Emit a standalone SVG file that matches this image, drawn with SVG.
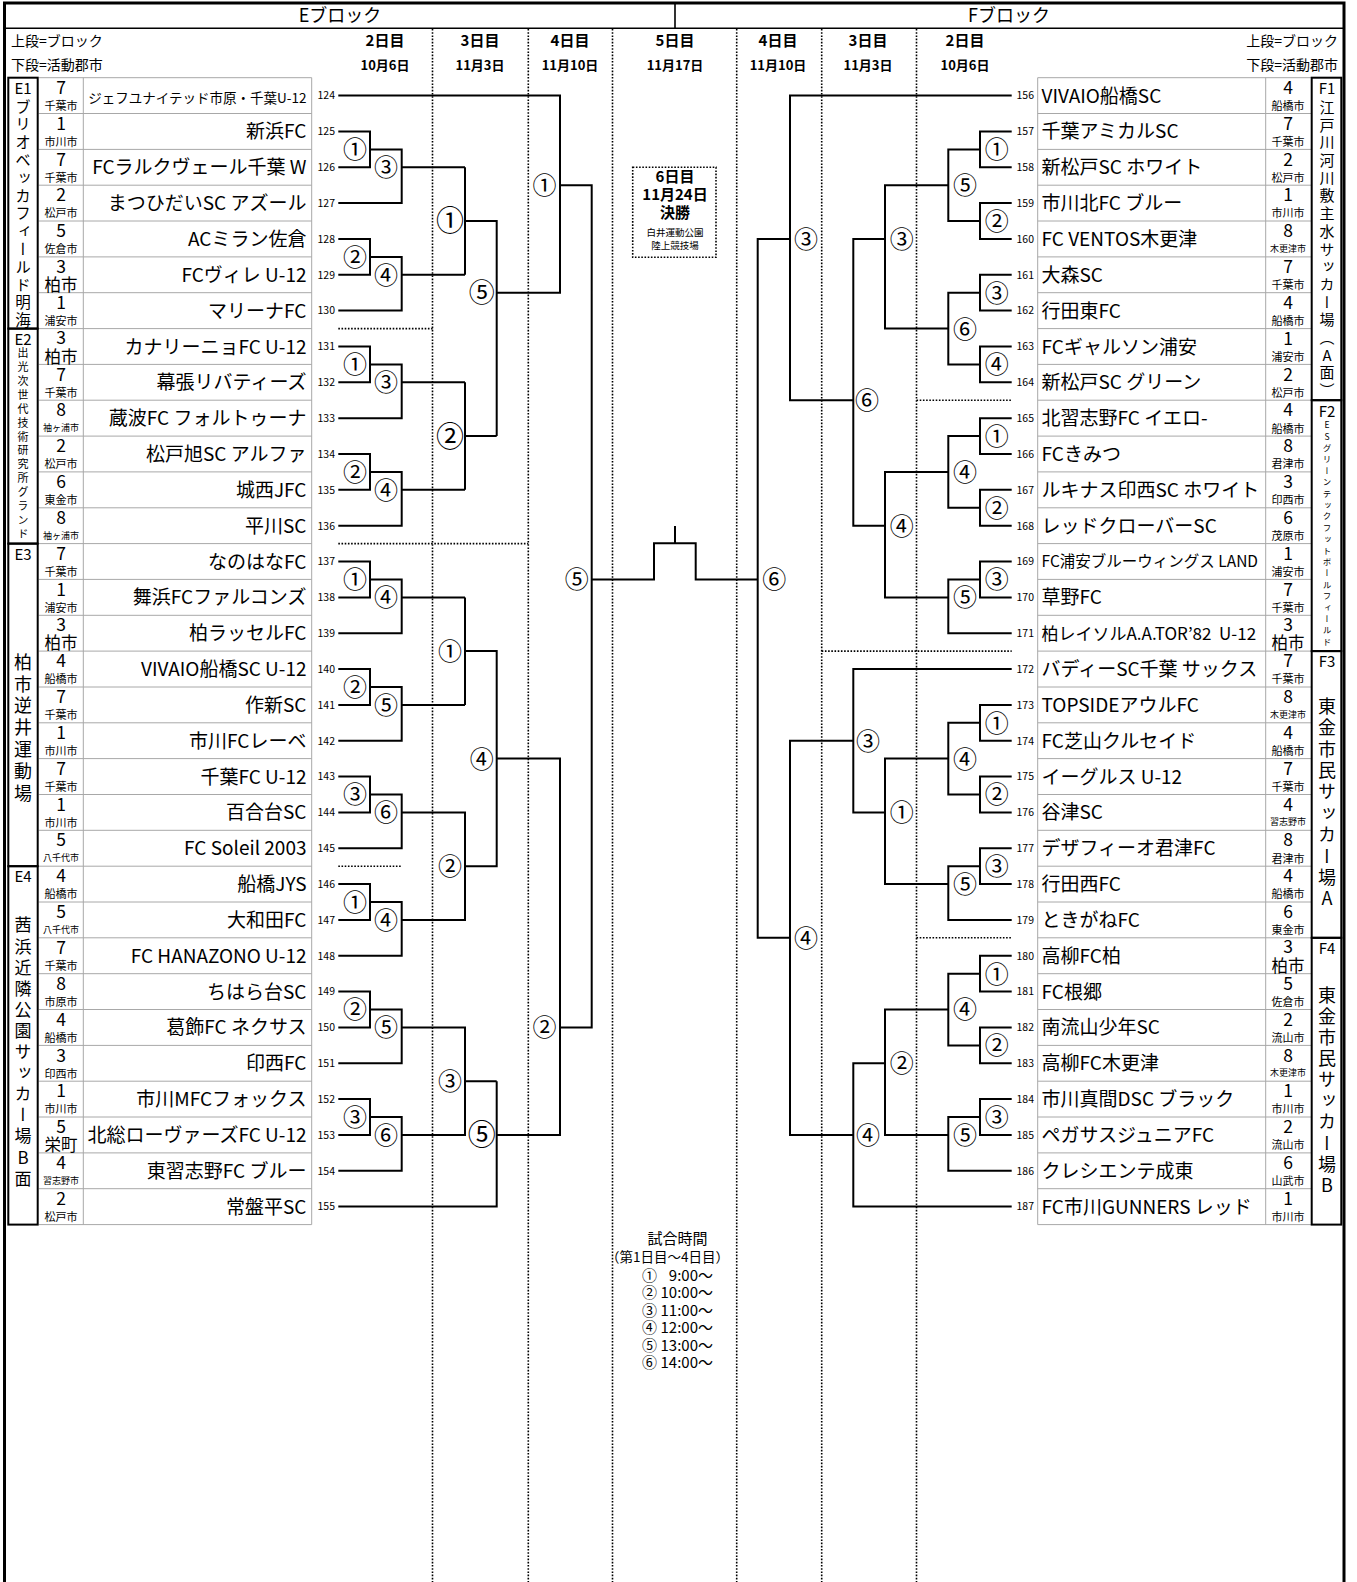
<svg xmlns="http://www.w3.org/2000/svg" width="1357" height="1582" viewBox="0 0 1357 1582">
<style>
text{font-family:"Noto Sans CJK JP","Liberation Sans",sans-serif;fill:#000}
.hd{font-size:18px;text-anchor:middle}
.dy{font-size:15px;font-weight:bold;text-anchor:middle}
.dd{font-size:13px;font-weight:bold;text-anchor:middle}
.lg{font-size:14px}
.rk{font-size:17.5px;text-anchor:middle}
.cs{font-size:11px;text-anchor:middle}
.ct{font-size:9px;text-anchor:middle}
.cl{font-size:16.5px;text-anchor:middle}
.ne{font-size:19px;text-anchor:end}
.nf{font-size:19px}
.ue{font-size:10.5px;text-anchor:end}
.uf{font-size:10.5px}
.m{font-size:24px;text-anchor:middle}
.M{font-size:28px;text-anchor:middle}
.bl{font-size:15px;text-anchor:middle}
.tm{font-size:15px}
.v{writing-mode:vertical-rl;text-orientation:upright}
.ln{fill:none;stroke:#000;stroke-width:2}
.dt{fill:none;stroke:#000;stroke-width:1.6;stroke-dasharray:1.6 1.6}
.gr{fill:none;stroke:#a8a8a8;stroke-width:1}
.bx{fill:none;stroke:#000;stroke-width:2}
</style>
<rect x="0" y="0" width="1357" height="1582" fill="#fff"/>
<g id="frame">
<path d="M4.5 1582V3H1344V1582" fill="none" stroke="#000" stroke-width="3"/>
<path d="M4.5 28.3H1344M675 3V28.3" fill="none" stroke="#000" stroke-width="1.6"/>
</g>
<g id="header">
<text class="hd" x="340" y="21.5">Eブロック</text>
<text class="hd" x="1009" y="21.5">Fブロック</text>
<text class="lg" x="11" y="46">上段=ブロック</text>
<text class="lg" x="11" y="70">下段=活動郡市</text>
<text class="lg" x="1338" y="46" text-anchor="end">上段=ブロック</text>
<text class="lg" x="1338" y="70" text-anchor="end">下段=活動郡市</text>
<text class="dy" x="385" y="46">2日目</text><text class="dd" x="385" y="70">10月6日</text>
<text class="dy" x="480" y="46">3日目</text><text class="dd" x="480" y="70">11月3日</text>
<text class="dy" x="570" y="46">4日目</text><text class="dd" x="570" y="70">11月10日</text>
<text class="dy" x="675" y="46">5日目</text><text class="dd" x="675" y="70">11月17日</text>
<text class="dy" x="778" y="46">4日目</text><text class="dd" x="778" y="70">11月10日</text>
<text class="dy" x="868" y="46">3日目</text><text class="dd" x="868" y="70">11月3日</text>
<text class="dy" x="965" y="46">2日目</text><text class="dd" x="965" y="70">10月6日</text>
</g>
<g id="grid">
<path class="gr" d="M38.7 77.7H311.7M38.7 113.5H311.7M38.7 149.4H311.7M38.7 185.2H311.7M38.7 221H311.7M38.7 256.9H311.7M38.7 292.7H311.7M38.7 328.6H311.7M38.7 364.4H311.7M38.7 400.2H311.7M38.7 436.1H311.7M38.7 471.9H311.7M38.7 507.8H311.7M38.7 543.6H311.7M38.7 579.4H311.7M38.7 615.3H311.7M38.7 651.1H311.7M38.7 687H311.7M38.7 722.8H311.7M38.7 758.6H311.7M38.7 794.5H311.7M38.7 830.3H311.7M38.7 866.2H311.7M38.7 902H311.7M38.7 937.8H311.7M38.7 973.7H311.7M38.7 1009.5H311.7M38.7 1045.4H311.7M38.7 1081.2H311.7M38.7 1117H311.7M38.7 1152.9H311.7M38.7 1188.7H311.7M38.7 1224.6H311.7M83.3 77.7V1224.6M311.7 77.7V1224.6"/>
<path class="gr" d="M1037.7 77.7H1311M1037.7 113.5H1311M1037.7 149.4H1311M1037.7 185.2H1311M1037.7 221H1311M1037.7 256.9H1311M1037.7 292.7H1311M1037.7 328.6H1311M1037.7 364.4H1311M1037.7 400.2H1311M1037.7 436.1H1311M1037.7 471.9H1311M1037.7 507.8H1311M1037.7 543.6H1311M1037.7 579.4H1311M1037.7 615.3H1311M1037.7 651.1H1311M1037.7 687H1311M1037.7 722.8H1311M1037.7 758.6H1311M1037.7 794.5H1311M1037.7 830.3H1311M1037.7 866.2H1311M1037.7 902H1311M1037.7 937.8H1311M1037.7 973.7H1311M1037.7 1009.5H1311M1037.7 1045.4H1311M1037.7 1081.2H1311M1037.7 1117H1311M1037.7 1152.9H1311M1037.7 1188.7H1311M1037.7 1224.6H1311M1037.7 77.7V1224.6M1265.7 77.7V1224.6"/>
</g>
<g id="block-labels">
<rect class="bx" x="8.3" y="77.7" width="29.4" height="250.9"/>
<rect class="bx" x="8.3" y="328.6" width="29.4" height="215"/>
<rect class="bx" x="8.3" y="543.6" width="29.4" height="322.6"/>
<rect class="bx" x="8.3" y="866.2" width="29.4" height="358.4"/>
<rect class="bx" x="1311.7" y="77.7" width="29.6" height="322.5"/>
<rect class="bx" x="1311.7" y="400.2" width="29.6" height="250.9"/>
<rect class="bx" x="1311.7" y="651.1" width="29.6" height="286.7"/>
<rect class="bx" x="1311.7" y="937.8" width="29.6" height="286.8"/>
<text class="bl" x="23" y="94">E1</text>
<text class="v" x="23" y="99" style="font-size:15.5px;letter-spacing:2.3px">ブリオベッカフィールド明海</text>
<text class="bl" x="23" y="345">E2</text>
<text class="v" x="23" y="347.8" style="font-size:11px;letter-spacing:2.85px">出光次世代技術研究所グランド</text>
<text class="bl" x="23" y="560">E3</text>
<text class="v" x="23" y="653" style="font-size:18px;letter-spacing:3.8px">柏市逆井運動場</text>
<text class="bl" x="23" y="882">E4</text>
<text class="v" x="23" y="916.5" style="font-size:17px;letter-spacing:4.1px">茜浜近隣公園サッカー場B面</text>
<text class="bl" x="1327" y="94">F1</text>
<text class="v" x="1327" y="99.8" style="font-size:15px;letter-spacing:2.7px">江戸川河川敷主水サッカー場（A面）</text>
<text class="bl" x="1327" y="416.7">F2</text>
<text class="v" x="1327" y="420.8" style="font-size:8.5px;letter-spacing:2.9px">ESグリーンテックフットボールフィールド</text>
<text class="bl" x="1327" y="667">F3</text>
<text class="v" x="1327" y="697" style="font-size:18px;letter-spacing:3.4px">東金市民サッカー場A</text>
<text class="bl" x="1327" y="954">F4</text>
<text class="v" x="1327" y="986" style="font-size:18px;letter-spacing:3.1px">東金市民サッカー場B</text>
</g>
<g id="teams-E">
<g id="t124"><text class="rk" x="61" y="93.8">7</text><text class="cs" x="61" y="109.9">千葉市</text><text class="ne" x="306.5" y="102.6" style="font-size:13.5px">ジェフユナイテッド市原・千葉U-12</text><text class="ue" x="335" y="99.4">124</text></g>
<g id="t125"><text class="rk" x="61" y="129.6">1</text><text class="cs" x="61" y="145.7">市川市</text><text class="ne" x="306.5" y="138.4">新浜FC</text><text class="ue" x="335" y="135.2">125</text></g>
<g id="t126"><text class="rk" x="61" y="165.5">7</text><text class="cs" x="61" y="181.6">千葉市</text><text class="ne" x="306.5" y="174.3">FCラルクヴェール千葉 W</text><text class="ue" x="335" y="171.1">126</text></g>
<g id="t127"><text class="rk" x="61" y="201.3">2</text><text class="cs" x="61" y="217.4">松戸市</text><text class="ne" x="306.5" y="210.1">まつひだいSC アズール</text><text class="ue" x="335" y="206.9">127</text></g>
<g id="t128"><text class="rk" x="61" y="237.2">5</text><text class="cs" x="61" y="253.3">佐倉市</text><text class="ne" x="306.5" y="246">ACミラン佐倉</text><text class="ue" x="335" y="242.8">128</text></g>
<g id="t129"><text class="rk" x="61" y="272.6">3</text><text class="cl" x="61" y="290.8">柏市</text><text class="ne" x="306.5" y="281.8">FCヴィレ U-12</text><text class="ue" x="335" y="278.6">129</text></g>
<g id="t130"><text class="rk" x="61" y="308.8">1</text><text class="cs" x="61" y="324.9">浦安市</text><text class="ne" x="306.5" y="317.6">マリーナFC</text><text class="ue" x="335" y="314.4">130</text></g>
<g id="t131"><text class="rk" x="61" y="344.3">3</text><text class="cl" x="61" y="362.5">柏市</text><text class="ne" x="306.5" y="353.5">カナリーニョFC U-12</text><text class="ue" x="335" y="350.3">131</text></g>
<g id="t132"><text class="rk" x="61" y="380.5">7</text><text class="cs" x="61" y="396.6">千葉市</text><text class="ne" x="306.5" y="389.3">幕張リバティーズ</text><text class="ue" x="335" y="386.1">132</text></g>
<g id="t133"><text class="rk" x="61" y="416.4">8</text><text class="ct" x="61" y="431.2">袖ヶ浦市</text><text class="ne" x="306.5" y="425.2">蔵波FC フォルトゥーナ</text><text class="ue" x="335" y="422">133</text></g>
<g id="t134"><text class="rk" x="61" y="452.2">2</text><text class="cs" x="61" y="468.3">松戸市</text><text class="ne" x="306.5" y="461">松戸旭SC アルファ</text><text class="ue" x="335" y="457.8">134</text></g>
<g id="t135"><text class="rk" x="61" y="488">6</text><text class="cs" x="61" y="504.1">東金市</text><text class="ne" x="306.5" y="496.8">城西JFC</text><text class="ue" x="335" y="493.6">135</text></g>
<g id="t136"><text class="rk" x="61" y="523.9">8</text><text class="ct" x="61" y="538.7">袖ヶ浦市</text><text class="ne" x="306.5" y="532.7">平川SC</text><text class="ue" x="335" y="529.5">136</text></g>
<g id="t137"><text class="rk" x="61" y="559.7">7</text><text class="cs" x="61" y="575.8">千葉市</text><text class="ne" x="306.5" y="568.5">なのはなFC</text><text class="ue" x="335" y="565.3">137</text></g>
<g id="t138"><text class="rk" x="61" y="595.6">1</text><text class="cs" x="61" y="611.7">浦安市</text><text class="ne" x="306.5" y="604.4">舞浜FCファルコンズ</text><text class="ue" x="335" y="601.2">138</text></g>
<g id="t139"><text class="rk" x="61" y="631">3</text><text class="cl" x="61" y="649.2">柏市</text><text class="ne" x="306.5" y="640.2">柏ラッセルFC</text><text class="ue" x="335" y="637">139</text></g>
<g id="t140"><text class="rk" x="61" y="667.2">4</text><text class="cs" x="61" y="683.3">船橋市</text><text class="ne" x="306.5" y="676">VIVAIO船橋SC U-12</text><text class="ue" x="335" y="672.8">140</text></g>
<g id="t141"><text class="rk" x="61" y="703.1">7</text><text class="cs" x="61" y="719.2">千葉市</text><text class="ne" x="306.5" y="711.9">作新SC</text><text class="ue" x="335" y="708.7">141</text></g>
<g id="t142"><text class="rk" x="61" y="738.9">1</text><text class="cs" x="61" y="755">市川市</text><text class="ne" x="306.5" y="747.7">市川FCレーベ</text><text class="ue" x="335" y="744.5">142</text></g>
<g id="t143"><text class="rk" x="61" y="774.8">7</text><text class="cs" x="61" y="790.9">千葉市</text><text class="ne" x="306.5" y="783.6">千葉FC U-12</text><text class="ue" x="335" y="780.4">143</text></g>
<g id="t144"><text class="rk" x="61" y="810.6">1</text><text class="cs" x="61" y="826.7">市川市</text><text class="ne" x="306.5" y="819.4">百合台SC</text><text class="ue" x="335" y="816.2">144</text></g>
<g id="t145"><text class="rk" x="61" y="846.4">5</text><text class="ct" x="61" y="861.2">八千代市</text><text class="ne" x="306.5" y="855.2">FC Soleil 2003</text><text class="ue" x="335" y="852">145</text></g>
<g id="t146"><text class="rk" x="61" y="882.3">4</text><text class="cs" x="61" y="898.4">船橋市</text><text class="ne" x="306.5" y="891.1">船橋JYS</text><text class="ue" x="335" y="887.9">146</text></g>
<g id="t147"><text class="rk" x="61" y="918.1">5</text><text class="ct" x="61" y="932.9">八千代市</text><text class="ne" x="306.5" y="926.9">大和田FC</text><text class="ue" x="335" y="923.7">147</text></g>
<g id="t148"><text class="rk" x="61" y="954">7</text><text class="cs" x="61" y="970.1">千葉市</text><text class="ne" x="306.5" y="962.8">FC HANAZONO U-12</text><text class="ue" x="335" y="959.6">148</text></g>
<g id="t149"><text class="rk" x="61" y="989.8">8</text><text class="cs" x="61" y="1005.9">市原市</text><text class="ne" x="306.5" y="998.6">ちはら台SC</text><text class="ue" x="335" y="995.4">149</text></g>
<g id="t150"><text class="rk" x="61" y="1025.6">4</text><text class="cs" x="61" y="1041.7">船橋市</text><text class="ne" x="306.5" y="1034.4">葛飾FC ネクサス</text><text class="ue" x="335" y="1031.2">150</text></g>
<g id="t151"><text class="rk" x="61" y="1061.5">3</text><text class="cs" x="61" y="1077.6">印西市</text><text class="ne" x="306.5" y="1070.3">印西FC</text><text class="ue" x="335" y="1067.1">151</text></g>
<g id="t152"><text class="rk" x="61" y="1097.3">1</text><text class="cs" x="61" y="1113.4">市川市</text><text class="ne" x="306.5" y="1106.1">市川MFCフォックス</text><text class="ue" x="335" y="1102.9">152</text></g>
<g id="t153"><text class="rk" x="61" y="1132.8">5</text><text class="cl" x="61" y="1151">栄町</text><text class="ne" x="306.5" y="1142">北総ローヴァーズFC U-12</text><text class="ue" x="335" y="1138.8">153</text></g>
<g id="t154"><text class="rk" x="61" y="1169">4</text><text class="ct" x="61" y="1183.8">習志野市</text><text class="ne" x="306.5" y="1177.8">東習志野FC ブルー</text><text class="ue" x="335" y="1174.6">154</text></g>
<g id="t155"><text class="rk" x="61" y="1204.8">2</text><text class="cs" x="61" y="1220.9">松戸市</text><text class="ne" x="306.5" y="1213.6">常盤平SC</text><text class="ue" x="335" y="1210.4">155</text></g>
</g>
<g id="teams-F">
<g id="t156"><text class="rk" x="1288" y="93.8">4</text><text class="cs" x="1288" y="109.9">船橋市</text><text class="nf" x="1041.5" y="102.6">VIVAIO船橋SC</text><text class="uf" x="1016.5" y="99.4">156</text></g>
<g id="t157"><text class="rk" x="1288" y="129.6">7</text><text class="cs" x="1288" y="145.7">千葉市</text><text class="nf" x="1041.5" y="138.4">千葉アミカルSC</text><text class="uf" x="1016.5" y="135.2">157</text></g>
<g id="t158"><text class="rk" x="1288" y="165.5">2</text><text class="cs" x="1288" y="181.6">松戸市</text><text class="nf" x="1041.5" y="174.3">新松戸SC ホワイト</text><text class="uf" x="1016.5" y="171.1">158</text></g>
<g id="t159"><text class="rk" x="1288" y="201.3">1</text><text class="cs" x="1288" y="217.4">市川市</text><text class="nf" x="1041.5" y="210.1">市川北FC ブルー</text><text class="uf" x="1016.5" y="206.9">159</text></g>
<g id="t160"><text class="rk" x="1288" y="237.2">8</text><text class="ct" x="1288" y="252">木更津市</text><text class="nf" x="1041.5" y="246">FC VENTOS木更津</text><text class="uf" x="1016.5" y="242.8">160</text></g>
<g id="t161"><text class="rk" x="1288" y="273">7</text><text class="cs" x="1288" y="289.1">千葉市</text><text class="nf" x="1041.5" y="281.8">大森SC</text><text class="uf" x="1016.5" y="278.6">161</text></g>
<g id="t162"><text class="rk" x="1288" y="308.8">4</text><text class="cs" x="1288" y="324.9">船橋市</text><text class="nf" x="1041.5" y="317.6">行田東FC</text><text class="uf" x="1016.5" y="314.4">162</text></g>
<g id="t163"><text class="rk" x="1288" y="344.7">1</text><text class="cs" x="1288" y="360.8">浦安市</text><text class="nf" x="1041.5" y="353.5">FCギャルソン浦安</text><text class="uf" x="1016.5" y="350.3">163</text></g>
<g id="t164"><text class="rk" x="1288" y="380.5">2</text><text class="cs" x="1288" y="396.6">松戸市</text><text class="nf" x="1041.5" y="389.3">新松戸SC グリーン</text><text class="uf" x="1016.5" y="386.1">164</text></g>
<g id="t165"><text class="rk" x="1288" y="416.4">4</text><text class="cs" x="1288" y="432.5">船橋市</text><text class="nf" x="1041.5" y="425.2">北習志野FC イエロ-</text><text class="uf" x="1016.5" y="422">165</text></g>
<g id="t166"><text class="rk" x="1288" y="452.2">8</text><text class="cs" x="1288" y="468.3">君津市</text><text class="nf" x="1041.5" y="461">FCきみつ</text><text class="uf" x="1016.5" y="457.8">166</text></g>
<g id="t167"><text class="rk" x="1288" y="488">3</text><text class="cs" x="1288" y="504.1">印西市</text><text class="nf" x="1041.5" y="496.8">ルキナス印西SC ホワイト</text><text class="uf" x="1016.5" y="493.6">167</text></g>
<g id="t168"><text class="rk" x="1288" y="523.9">6</text><text class="cs" x="1288" y="540">茂原市</text><text class="nf" x="1041.5" y="532.7">レッドクローバーSC</text><text class="uf" x="1016.5" y="529.5">168</text></g>
<g id="t169"><text class="rk" x="1288" y="559.7">1</text><text class="cs" x="1288" y="575.8">浦安市</text><text class="nf" x="1041.5" y="567" style="font-size:15.5px">FC浦安ブルーウィングス LAND</text><text class="uf" x="1016.5" y="565.3">169</text></g>
<g id="t170"><text class="rk" x="1288" y="595.6">7</text><text class="cs" x="1288" y="611.7">千葉市</text><text class="nf" x="1041.5" y="604.4">草野FC</text><text class="uf" x="1016.5" y="601.2">170</text></g>
<g id="t171"><text class="rk" x="1288" y="631">3</text><text class="cl" x="1288" y="649.2">柏市</text><text class="nf" x="1041.5" y="639.5" style="font-size:17px" xml:space="preserve">柏レイソルA.A.TOR’82  U-12</text><text class="uf" x="1016.5" y="637">171</text></g>
<g id="t172"><text class="rk" x="1288" y="667.2">7</text><text class="cs" x="1288" y="683.3">千葉市</text><text class="nf" x="1041.5" y="676">バディーSC千葉 サックス</text><text class="uf" x="1016.5" y="672.8">172</text></g>
<g id="t173"><text class="rk" x="1288" y="703.1">8</text><text class="ct" x="1288" y="717.9">木更津市</text><text class="nf" x="1041.5" y="711.9">TOPSIDEアウルFC</text><text class="uf" x="1016.5" y="708.7">173</text></g>
<g id="t174"><text class="rk" x="1288" y="738.9">4</text><text class="cs" x="1288" y="755">船橋市</text><text class="nf" x="1041.5" y="747.7">FC芝山クルセイド</text><text class="uf" x="1016.5" y="744.5">174</text></g>
<g id="t175"><text class="rk" x="1288" y="774.8">7</text><text class="cs" x="1288" y="790.9">千葉市</text><text class="nf" x="1041.5" y="783.6">イーグルス U-12</text><text class="uf" x="1016.5" y="780.4">175</text></g>
<g id="t176"><text class="rk" x="1288" y="810.6">4</text><text class="ct" x="1288" y="825.4">習志野市</text><text class="nf" x="1041.5" y="819.4">谷津SC</text><text class="uf" x="1016.5" y="816.2">176</text></g>
<g id="t177"><text class="rk" x="1288" y="846.4">8</text><text class="cs" x="1288" y="862.5">君津市</text><text class="nf" x="1041.5" y="855.2">デザフィーオ君津FC</text><text class="uf" x="1016.5" y="852">177</text></g>
<g id="t178"><text class="rk" x="1288" y="882.3">4</text><text class="cs" x="1288" y="898.4">船橋市</text><text class="nf" x="1041.5" y="891.1">行田西FC</text><text class="uf" x="1016.5" y="887.9">178</text></g>
<g id="t179"><text class="rk" x="1288" y="918.1">6</text><text class="cs" x="1288" y="934.2">東金市</text><text class="nf" x="1041.5" y="926.9">ときがねFC</text><text class="uf" x="1016.5" y="923.7">179</text></g>
<g id="t180"><text class="rk" x="1288" y="953.1">3</text><text class="cl" x="1288" y="971.8">柏市</text><text class="nf" x="1041.5" y="962.8">高柳FC柏</text><text class="uf" x="1016.5" y="959.6">180</text></g>
<g id="t181"><text class="rk" x="1288" y="989.8">5</text><text class="cs" x="1288" y="1005.9">佐倉市</text><text class="nf" x="1041.5" y="998.6">FC根郷</text><text class="uf" x="1016.5" y="995.4">181</text></g>
<g id="t182"><text class="rk" x="1288" y="1025.6">2</text><text class="cs" x="1288" y="1041.7">流山市</text><text class="nf" x="1041.5" y="1034.4">南流山少年SC</text><text class="uf" x="1016.5" y="1031.2">182</text></g>
<g id="t183"><text class="rk" x="1288" y="1061.5">8</text><text class="ct" x="1288" y="1076.3">木更津市</text><text class="nf" x="1041.5" y="1070.3">高柳FC木更津</text><text class="uf" x="1016.5" y="1067.1">183</text></g>
<g id="t184"><text class="rk" x="1288" y="1097.3">1</text><text class="cs" x="1288" y="1113.4">市川市</text><text class="nf" x="1041.5" y="1106.1">市川真間DSC ブラック</text><text class="uf" x="1016.5" y="1102.9">184</text></g>
<g id="t185"><text class="rk" x="1288" y="1133.2">2</text><text class="cs" x="1288" y="1149.3">流山市</text><text class="nf" x="1041.5" y="1142">ペガサスジュニアFC</text><text class="uf" x="1016.5" y="1138.8">185</text></g>
<g id="t186"><text class="rk" x="1288" y="1169">6</text><text class="cs" x="1288" y="1185.1">山武市</text><text class="nf" x="1041.5" y="1177.8">クレシエンテ成東</text><text class="uf" x="1016.5" y="1174.6">186</text></g>
<g id="t187"><text class="rk" x="1288" y="1204.8">1</text><text class="cs" x="1288" y="1220.9">市川市</text><text class="nf" x="1041.5" y="1213.6">FC市川GUNNERS レッド</text><text class="uf" x="1016.5" y="1210.4">187</text></g>
</g>
<g id="dividers">
<path class="dt" d="M432.5 29V1582M528.3 29V1582M612.5 29V1582M736.7 29V1582M821.7 29V1582M916.5 29V1582"/>
<path class="dt" d="M338.3 328.6H432.5M338.3 543.6H528.3M338.3 866.2H401.7M916.5 400.2H1011.7M821.7 651.1H1011.7M916.5 937.8H1011.7"/>
</g>
<g id="connectors">
<path class="ln" d="M338.3 95.6H560V292.7H496.7M338.3 131.4H370V167.3H338.3M370 149.4H401.7V203.1H338.3M401.7 167.3H465M338.3 239H370V274.8H338.3M370 256.9H401.7V310.6H338.3M401.7 274.8H465M465 167.3V274.8M465 221H496.7V436.1M560 185.2H591.7V1027.4H560"/>
<path class="ln" d="M338.3 346.5H370V382.3H338.3M370 364.4H401.7V418.2H338.3M401.7 382.3H465M338.3 454H370V489.8H338.3M370 471.9H401.7V525.7H338.3M401.7 489.8H465M465 382.3V489.8M465 436.1H496.7"/>
<path class="ln" d="M338.3 561.5H370V597.4H338.3M370 579.4H401.7V633.2H338.3M401.7 597.4H465M338.3 669H370V704.9H338.3M370 687H401.7V740.7H338.3M401.7 704.9H465M465 597.4V704.9M465 651.1H496.7V866.2H465M496.7 758.6H560V1135H496.7M338.3 776.6H370V812.4H338.3M370 794.5H401.7V848.2H338.3M401.7 812.4H465V919.9H401.7"/>
<path class="ln" d="M338.3 884.1H370V919.9H338.3M370 902H401.7V955.8H338.3M338.3 991.6H370V1027.4H338.3M370 1009.5H401.7V1063.3H338.3M401.7 1027.4H465V1135H401.7M338.3 1099.1H370V1135H338.3M370 1117H401.7V1170.8H338.3M465 1081.2H496.7M338.3 1206.6H496.7V1081.2"/>
<path class="ln" d="M591.7 579.4H654V543.3H695.7V579.4H757.7M675 526V543.3"/>
<path class="ln" d="M1011.7 95.6H790V400.2H853.3M1011.7 131.4H980V167.3H1011.7M980 149.4H948.3V221H980M1011.7 203.1H980V239H1011.7M948.3 185.2H885V328.6H948.3M1011.7 274.8H980V310.6H1011.7M980 292.7H948.3V364.4H980M1011.7 346.5H980V382.3H1011.7M885 239H853.3V525.7H885M790 239H757.7V937.8H790"/>
<path class="ln" d="M1011.7 418.2H980V454H1011.7M980 436.1H948.3V507.8H980M1011.7 489.8H980V525.7H1011.7M948.3 471.9H885V597.4H948.3M1011.7 561.5H980V597.4H1011.7M980 579.4H948.3V633.2H1011.7"/>
<path class="ln" d="M1011.7 669H853.3V812.4H885M1011.7 704.9H980V740.7H1011.7M980 722.8H948.3V794.5H980M1011.7 776.6H980V812.4H1011.7M948.3 758.6H885V884.1H948.3M1011.7 848.2H980V884.1H1011.7M980 866.2H948.3V919.9H1011.7M853.3 740.7H790V1135H853.3"/>
<path class="ln" d="M1011.7 955.8H980V991.6H1011.7M980 973.7H948.3V1045.4H980M1011.7 1027.4H980V1063.3H1011.7M948.3 1009.5H885V1135H948.3M1011.7 1099.1H980V1135H1011.7M980 1117H948.3V1170.8H1011.7M1011.7 1206.6H853.3V1063.3H885"/>
</g>
<g id="match-labels">
<text class="m" x="355" y="158.3">①</text><text class="m" x="386" y="176.2">③</text><text class="m" x="355" y="265.8">②</text><text class="m" x="386" y="283.7">④</text><text class="M" x="450" y="231.4">①</text><text class="m" x="481.7" y="302.3" style="font-size:26px">⑤</text><text class="m" x="544.5" y="194.1">①</text>
<text class="m" x="355" y="373.3">①</text><text class="m" x="386" y="391.2">③</text><text class="m" x="355" y="480.8">②</text><text class="m" x="386" y="498.7">④</text><text class="M" x="450" y="446.5">②</text>
<text class="m" x="355" y="588.3">①</text><text class="m" x="386" y="606.3">④</text><text class="m" x="355" y="695.9">②</text><text class="m" x="386" y="713.8">⑤</text><text class="m" x="450" y="660">①</text><text class="m" x="355" y="803.4">③</text><text class="m" x="386" y="821.3">⑥</text><text class="m" x="481.7" y="767.5">④</text>
<text class="m" x="355" y="910.9">①</text><text class="m" x="386" y="928.8">④</text><text class="m" x="450" y="875.1">②</text><text class="m" x="355" y="1018.4">②</text><text class="m" x="386" y="1036.3">⑤</text><text class="m" x="355" y="1125.9">③</text><text class="m" x="386" y="1143.9">⑥</text><text class="m" x="450" y="1090.1">③</text><text class="M" x="481.7" y="1145.4">⑤</text><text class="m" x="544.5" y="1036.3">②</text>
<text class="m" x="576.7" y="588.3">⑤</text>
<text class="m" x="996.7" y="158.3">①</text><text class="m" x="996.7" y="229.9">②</text><text class="m" x="965" y="194.1">⑤</text><text class="m" x="996.7" y="301.6">③</text><text class="m" x="996.7" y="373.3">④</text><text class="m" x="965" y="337.5">⑥</text><text class="m" x="901.7" y="247.9">③</text><text class="m" x="867" y="409.1">⑥</text><text class="m" x="806" y="247.9">③</text>
<text class="m" x="996.7" y="445">①</text><text class="m" x="996.7" y="516.7">②</text><text class="m" x="965" y="480.8">④</text><text class="m" x="996.7" y="588.3">③</text><text class="m" x="965" y="606.3">⑤</text><text class="m" x="901.7" y="534.6">④</text>
<text class="m" x="996.7" y="731.7">①</text><text class="m" x="996.7" y="803.4">②</text><text class="m" x="965" y="767.5">④</text><text class="m" x="996.7" y="875.1">③</text><text class="m" x="965" y="893">⑤</text><text class="m" x="901.7" y="821.3">①</text><text class="m" x="868" y="749.6">③</text>
<text class="m" x="996.7" y="982.6">①</text><text class="m" x="996.7" y="1054.3">②</text><text class="m" x="965" y="1018.4">④</text><text class="m" x="996.7" y="1125.9">③</text><text class="m" x="965" y="1143.9">⑤</text><text class="m" x="901.7" y="1072.2">②</text><text class="m" x="868" y="1143.9">④</text><text class="m" x="806" y="946.7">④</text><text class="m" x="774.3" y="588.3">⑥</text>
</g>
<g id="final">
<rect class="dt" x="632.7" y="167.3" width="83.3" height="90"/>
<text class="dy" x="675" y="182">6日目</text>
<text class="dy" x="675" y="199.5">11月24日</text>
<text class="dy" x="675" y="218">決勝</text>
<text x="675" y="235.8" style="font-size:9.5px;text-anchor:middle">白井運動公園</text>
<text x="675" y="248.5" style="font-size:9.5px;text-anchor:middle">陸上競技場</text>
</g>
<g id="times">
<text x="677.5" y="1243.5" style="font-size:15px;text-anchor:middle">試合時間</text>
<text x="667.5" y="1262" style="font-size:13.5px;text-anchor:middle">（第1日目～4日目）</text>
<text class="tm"><tspan x="642" y="1281">①</tspan><tspan x="713" y="1281" text-anchor="end">9:00～</tspan></text>
<text class="tm"><tspan x="642" y="1298.4">②</tspan><tspan x="713" y="1298.4" text-anchor="end">10:00～</tspan></text>
<text class="tm"><tspan x="642" y="1315.8">③</tspan><tspan x="713" y="1315.8" text-anchor="end">11:00～</tspan></text>
<text class="tm"><tspan x="642" y="1333.2">④</tspan><tspan x="713" y="1333.2" text-anchor="end">12:00～</tspan></text>
<text class="tm"><tspan x="642" y="1350.6">⑤</tspan><tspan x="713" y="1350.6" text-anchor="end">13:00～</tspan></text>
<text class="tm"><tspan x="642" y="1368">⑥</tspan><tspan x="713" y="1368" text-anchor="end">14:00～</tspan></text>
</g>
</svg>
